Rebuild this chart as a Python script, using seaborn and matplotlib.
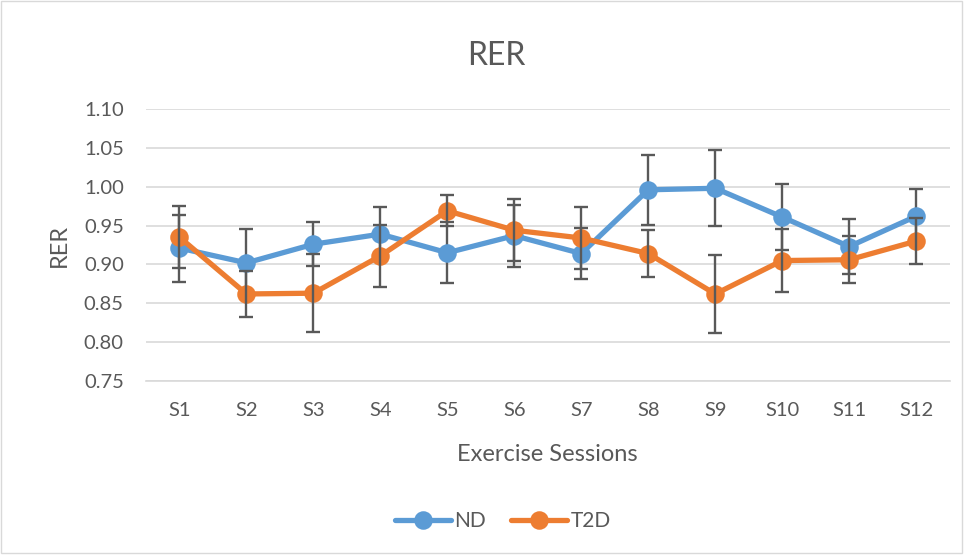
import matplotlib
matplotlib.use("Agg")
import matplotlib.pyplot as plt
import numpy as np
import pandas as pd
import seaborn as sns
from matplotlib.patches import Rectangle

# data
sessions = ["S1", "S2", "S3", "S4", "S5", "S6", "S7", "S8", "S9", "S10", "S11", "S12"]
nd_mean = [0.921, 0.902, 0.926, 0.939, 0.915, 0.937, 0.914, 0.996, 0.998, 0.961, 0.923, 0.962]
nd_err = [0.043, 0.043, 0.028, 0.035, 0.039, 0.040, 0.033, 0.045, 0.049, 0.042, 0.035, 0.035]
t2d_mean = [0.935, 0.862, 0.863, 0.911, 0.969, 0.944, 0.934, 0.914, 0.862, 0.905, 0.906, 0.930]
t2d_err = [0.040, 0.030, 0.050, 0.040, 0.020, 0.040, 0.040, 0.030, 0.050, 0.040, 0.030, 0.030]
groups = ["ND", "T2D"]
colors = {"ND": "#5B9BD5", "T2D": "#ED7D31"}

TEXT = "#595959"
GRID = "#D9D9D9"

df = pd.DataFrame({
    "session": sessions * 2,
    "RER": nd_mean + t2d_mean,
    "err": nd_err + t2d_err,
    "group": ["ND"] * len(sessions) + ["T2D"] * len(sessions),
})

sns.set_theme(style="white")
plt.rcParams["font.family"] = ["Lato", "DejaVu Sans"]

fig = plt.figure(figsize=(9.67, 5.56), dpi=100)
ax = fig.add_axes([0.151, 0.3147, 0.831, 0.4893])

# error bars sit behind the lines and markers
for i, g in enumerate(groups):
    sub = df[df["group"] == g]
    ax.errorbar(np.arange(len(sessions)), sub["RER"], yerr=sub["err"],
                fmt="none", ecolor=TEXT, elinewidth=1.7, capsize=4.8,
                capthick=1.7, zorder=2 + i * 2)

sns.pointplot(data=df, x="session", y="RER", hue="group", order=sessions,
              hue_order=groups, palette=colors, errorbar=None, markers="o",
              markersize=10.5, linewidth=3.8, ax=ax)

ax.set_ylim(0.75, 1.10)
ax.set_xlim(-0.5, len(sessions) - 0.5)
ax.set_yticks(np.arange(0.75, 1.101, 0.05))
ax.yaxis.set_major_formatter(matplotlib.ticker.FormatStrFormatter("%.2f"))
ax.grid(axis="y", color=GRID, linewidth=1.2)
ax.set_axisbelow(True)
for s in ["left", "right", "top"]:
    ax.spines[s].set_visible(False)
ax.spines["bottom"].set_color(GRID)
ax.spines["bottom"].set_linewidth(1.2)
ax.tick_params(axis="y", length=0, labelsize=14.5, labelcolor=TEXT, pad=16)
ax.tick_params(axis="x", length=0, labelsize=14.5, labelcolor=TEXT, pad=15)

ax.set_xlabel("Exercise Sessions", fontsize=17, color=TEXT, labelpad=18)
ax.set_ylabel("RER", fontsize=17, color=TEXT, labelpad=10)
fig.text(0.513, 0.9, "RER", fontsize=23, color=TEXT, ha="center", va="center")

handles, labels = ax.get_legend_handles_labels()
ax.get_legend().remove()
fig.legend(handles, labels, loc="center", bbox_to_anchor=(0.52, 0.063), ncol=2,
           frameon=False, fontsize=15, labelcolor=TEXT, handlelength=2.7,
           columnspacing=1.2, handletextpad=0.15)

fig.patches.append(Rectangle((0.001, 0.005), 0.994, 0.993, transform=fig.transFigure,
                             fill=False, edgecolor=GRID, linewidth=1.0))

fig.savefig("out.png", dpi=100)
